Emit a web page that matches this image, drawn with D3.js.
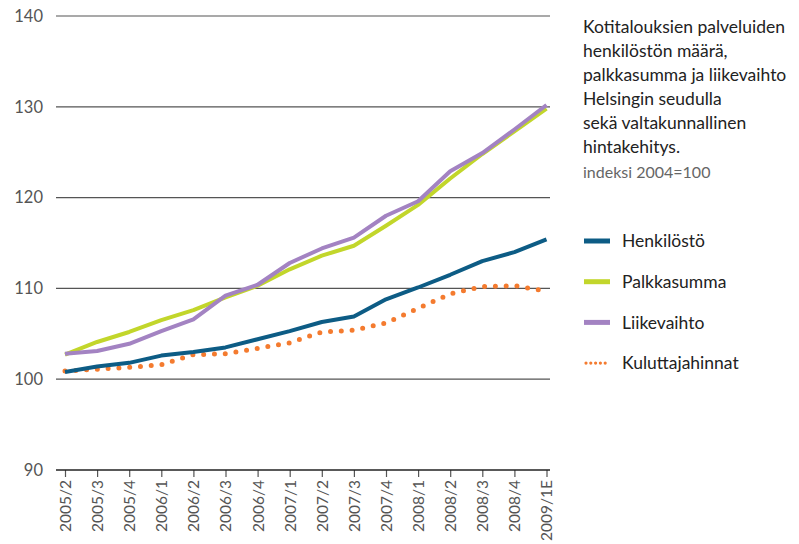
<!DOCTYPE html>
<html>
<head>
<meta charset="utf-8">
<script src="https://cdn.jsdelivr.net/npm/d3@7"></script>
<style>
  body { margin: 0; background: #fff; }
  svg { display: block; }
  text { font-family: Lato, "Open Sans", sans-serif; }
</style>
</head>
<body>
<svg id="chart" width="799" height="544"></svg>
<script>
// Quarterly periods
const categories = ["2005/2","2005/3","2005/4","2006/1","2006/2","2006/3","2006/4","2007/1",
  "2007/2","2007/3","2007/4","2008/1","2008/2","2008/3","2008/4","2009/1E"];

// Index values, 2004 = 100
const henkilosto      = [100.8,101.4,101.8,102.6,103.0,103.5,104.4,105.3,106.3,106.9,108.8,110.1,111.5,113.0,114.0,115.4];
const palkkasumma     = [102.7,104.1,105.2,106.5,107.6,109.0,110.3,112.1,113.6,114.7,116.9,119.2,122.1,124.8,127.3,129.8];
const liikevaihto     = [102.8,103.1,103.9,105.3,106.6,109.2,110.4,112.8,114.4,115.6,118.0,119.6,122.9,124.9,127.5,130.2];
const kuluttajahinnat = [100.9,101.1,101.3,101.6,102.7,102.8,103.4,104.0,105.2,105.4,106.2,107.8,109.4,110.2,110.3,109.7];

const yTicks = [90, 100, 110, 120, 130, 140];

const titleLines = ["Kotitalouksien palveluiden", "henkilöstön määrä,", "palkkasumma ja liikevaihto",
  "Helsingin seudulla", "sekä valtakunnallinen", "hintakehitys."];
const subtitle = "indeksi 2004=100";

const series = [
  { name: "Henkilöstö", values: henkilosto, color: "#0d5c85", dotted: false },
  { name: "Palkkasumma", values: palkkasumma, color: "#c2d62b", dotted: false },
  { name: "Liikevaihto", values: liikevaihto, color: "#a383c2", dotted: false },
  { name: "Kuluttajahinnat", values: kuluttajahinnat, color: "#f47b2f", dotted: true }
];

const svg = d3.select("#chart");

const x = d3.scalePoint().domain(categories).range([65, 546.5]);
const y = d3.scaleLinear().domain([90, 140]).range([470, 16]);
const gridLeft = 56, gridRight = 550;

// Horizontal gridlines
svg.append("g")
  .selectAll("line")
  .data(yTicks.filter(d => d > 90))
  .join("line")
  .attr("x1", gridLeft).attr("x2", gridRight)
  .attr("y1", d => y(d)).attr("y2", d => y(d))
  .attr("stroke", "#555").attr("stroke-width", 1.2);

// Y tick labels
svg.append("g")
  .selectAll("text")
  .data(yTicks)
  .join("text")
  .attr("x", 43).attr("y", d => y(d))
  .attr("dy", "0.35em")
  .attr("text-anchor", "end")
  .attr("font-size", 16.5)
  .attr("fill", "#555")
  .text(d => d);

// X axis
const xAxis = d3.axisBottom(x).tickSize(7).tickPadding(4);
const gx = svg.append("g").attr("transform", `translate(0,${y(90)})`).call(xAxis);
gx.select(".domain").remove();
gx.append("line").attr("x1", gridLeft).attr("x2", gridRight)
  .attr("stroke", "#222").attr("stroke-width", 1.4);
gx.selectAll(".tick line").attr("stroke", "#555").attr("stroke-width", 1.2);
gx.selectAll(".tick text")
  .attr("font-size", 15.5)
  .attr("fill", "#555")
  .attr("font-family", "Lato, 'Open Sans', sans-serif")
  .attr("transform", "rotate(-90)")
  .attr("text-anchor", "end")
  .attr("x", -10).attr("y", 0).attr("dy", "0.35em");

// Series lines
const line = d3.line()
  .x((d, i) => x(categories[i]))
  .y(d => y(d));

const order = [series[3], series[1], series[2], series[0]];
svg.append("g")
  .selectAll("path")
  .data(order)
  .join("path")
  .attr("d", s => line(s.values))
  .attr("fill", "none")
  .attr("stroke", s => s.color)
  .attr("stroke-width", s => s.dotted ? 5 : 4)
  .attr("stroke-linecap", s => s.dotted ? "round" : "butt")
  .attr("stroke-linejoin", "round")
  .attr("stroke-dasharray", s => s.dotted ? "0 10.8" : null);

// Title block
const title = svg.append("text").attr("font-size", 17.5).attr("fill", "#222");
titleLines.forEach((t, i) => {
  title.append("tspan").attr("x", 583).attr("y", 33 + i * 24).text(t);
});
svg.append("text").attr("x", 583).attr("y", 178)
  .attr("font-size", 16).attr("fill", "#666").text(subtitle);

// Legend
const legend = svg.append("g")
  .selectAll("g")
  .data(series)
  .join("g")
  .attr("transform", (d, i) => `translate(584,${241 + i * 40.7})`);
legend.append("line")
  .attr("x1", d => d.dotted ? 2 : 0).attr("x2", d => d.dotted ? 26 : 26)
  .attr("stroke", d => d.color)
  .attr("stroke-width", d => d.dotted ? 3.2 : 5)
  .attr("stroke-linecap", d => d.dotted ? "round" : "butt")
  .attr("stroke-dasharray", d => d.dotted ? "0 4.8" : null);
legend.append("text")
  .attr("x", 38).attr("dy", "0.35em")
  .attr("font-size", 17.5).attr("fill", "#222")
  .text(d => d.name);
</script>
</body>
</html>
